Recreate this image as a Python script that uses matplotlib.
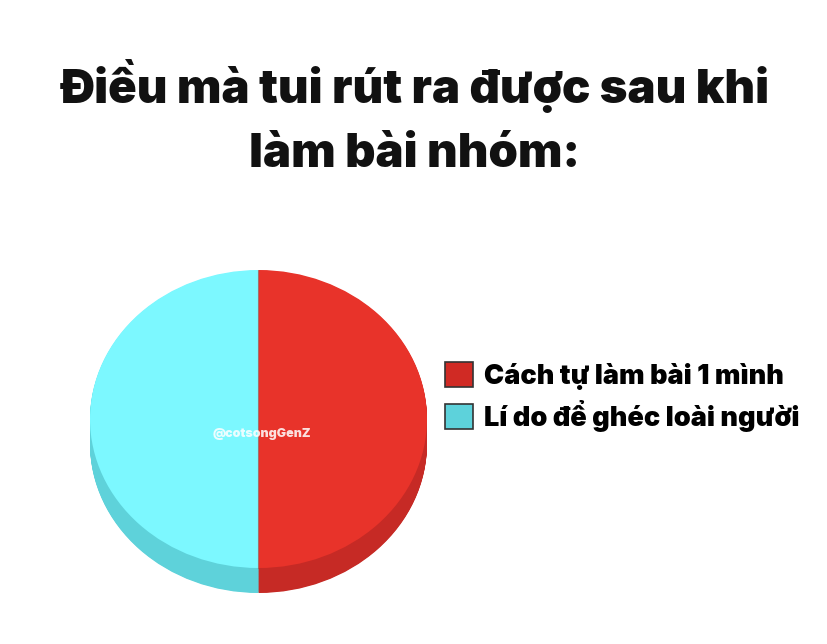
import matplotlib
matplotlib.use("Agg")
import matplotlib.pyplot as plt
from matplotlib.patches import Patch
import numpy as np

# data
labels = ["Cách tự làm bài 1 mình", "Lí do để ghéc loài người"]
values = [50, 50]
top_colors = ["#E8332A", "#7CF8FF"]
side_colors = ["#C62A25", "#5ED2DA"]
legend_colors = ["#D02A24", "#5DD2DB"]
title_lines = ["Điều mà tui rút ra được sau khi", "làm bài nhóm:"]
watermark = "@cotsongGenZ"

W, H = 828, 644
fig = plt.figure(figsize=(W / 100, H / 100), dpi=100)
fig.patch.set_facecolor("white")

# title, in pixel positions
for line, base in zip(title_lines, [103, 167]):
    fig.text(415 / W, 1 - base / H, line, ha="center", va="baseline",
             fontsize=34, fontweight=900, family="Inter", color="#111111")

# pie axes: top face 90..427 px wide, 270..568 px tall, side 25 px deep
left, right, top, bottom = 90, 427, 270, 593
depth = 25 / 149.0
ax = fig.add_axes([left / W, 1 - bottom / H, (right - left) / W, (bottom - top) / H])

for d in np.linspace(depth, 0.005, 40):
    ax.pie(values, colors=side_colors, startangle=90, counterclock=False,
           center=(0, -d), wedgeprops=dict(linewidth=0))
wedges, _ = ax.pie(values, colors=top_colors, startangle=90, counterclock=False,
                   center=(0, 0), wedgeprops=dict(linewidth=0))
ax.plot([0, 0], [1, -1], color="#A84A40", lw=0.8, alpha=0.6)
ax.set_aspect("auto")
ax.set_xlim(-1, 1)
ax.set_ylim(-1 - depth, 1)
ax.axis("off")

ax.text(0.02, -0.1, watermark, ha="center", va="center", fontsize=9,
        fontweight=900, color="white", alpha=0.85, family="Inter")

handles = [Patch(facecolor=c, edgecolor="#333333", linewidth=1.2) for c in legend_colors]
fig.legend(handles, labels, loc="upper left", bbox_to_anchor=(445 / W, 1 - 362 / H),
           frameon=False, prop=dict(family="Inter", weight=900, size=19.5),
           handlelength=1.03, handleheight=1.03, handletextpad=0.4, labelspacing=0.37,
           borderaxespad=0, borderpad=0)

fig.savefig("out.png", dpi=100, facecolor="white")
